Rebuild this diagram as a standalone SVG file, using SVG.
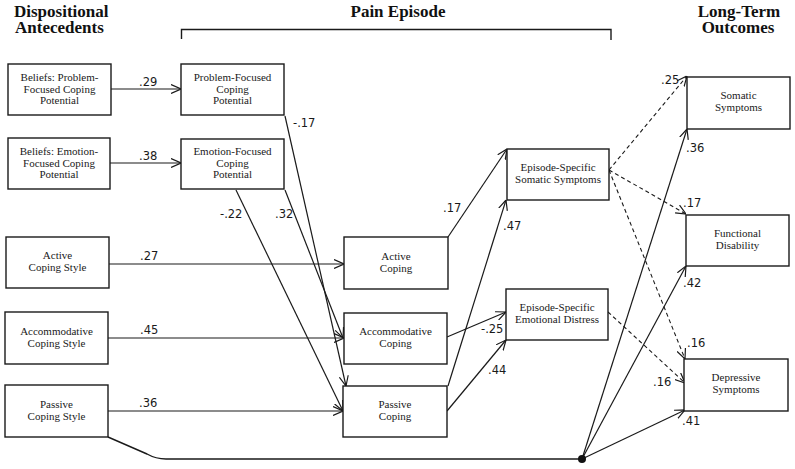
<svg xmlns="http://www.w3.org/2000/svg" width="795" height="469" viewBox="0 0 795 469">
<defs>
<style>
.bg{fill:#fff}
.box{fill:#fff;stroke:#1a1a1a;stroke-width:1.4}
.nt{font-family:"Liberation Serif","Times New Roman",serif;font-size:11px;fill:#1a1a1a;text-anchor:middle}
.hd{font-family:"Liberation Serif","Times New Roman",serif;font-size:17px;font-weight:bold;fill:#111}
.lb{font-family:"DejaVu Sans",Verdana,sans-serif;font-size:11.5px;fill:#1a1a1a}
.ln{fill:none;stroke:#1a1a1a;stroke-width:1.2;marker-end:url(#arr)}
.dl{fill:none;stroke:#1a1a1a;stroke-width:1.1;stroke-dasharray:4 3;marker-end:url(#arr)}
.pl{fill:none;stroke:#1a1a1a;stroke-width:1.4}
</style>
<marker id="arr" viewBox="0 0 10 10" refX="10" refY="5" markerWidth="10" markerHeight="10" markerUnits="userSpaceOnUse" orient="auto">
<path d="M0,0.5 L10,5 L0,9.5" fill="none" stroke="#1a1a1a" stroke-width="1.2"/>
</marker>
</defs>
<rect class="bg" x="0" y="0" width="795" height="469"/>

<g id="headers">
<text class="hd" x="14" y="17">Dispositional</text>
<text class="hd" x="15" y="33">Antecedents</text>
<text class="hd" x="398" y="17" text-anchor="middle">Pain Episode</text>
<text class="hd" x="739" y="17" text-anchor="middle">Long-Term</text>
<text class="hd" x="738" y="33" text-anchor="middle">Outcomes</text>
<path class="pl" d="M181.5,39 L181.5,29.5 L611,29.5 L611,40" stroke-width="1.8"/>
</g>

<g id="connectors">
<path class="ln" d="M111,89 L181,89"/>
<path class="ln" d="M110,163 L181,163"/>
<path class="ln" d="M109,264 L344,264"/>
<path class="ln" d="M108,338 L344,338"/>
<path class="ln" d="M108,411 L343,411"/>
<path class="ln" d="M285,116 L346,386"/>
<path class="ln" d="M285,190 L343,338"/>
<path class="ln" d="M236,190 L343,411"/>
<path class="ln" d="M448,237 L507,149"/>
<path class="ln" d="M448,386 L506,200"/>
<path class="ln" d="M447,337 L506,312"/>
<path class="ln" d="M447,411 L506,340"/>
<path class="dl" d="M609,170 L687,76"/>
<path class="dl" d="M609,170 L686,214"/>
<path class="dl" d="M609,170 L685,359"/>
<path class="dl" d="M608,312 L685,383"/>
<path class="pl" d="M108,437 L147,454 Q156,459 166,459 L582,459"/>
<path class="ln" d="M582,459 L687,129"/>
<path class="ln" d="M582,459 L686,266"/>
<path class="ln" d="M582,459 L685,410"/>
<circle cx="582" cy="459" r="4" fill="#111"/>
</g>

<g id="labels">
<text class="lb" x="139" y="86">.29</text>
<text class="lb" x="139" y="160">.38</text>
<text class="lb" x="293" y="127">-.17</text>
<text class="lb" x="220" y="218">-.22</text>
<text class="lb" x="275" y="218">.32</text>
<text class="lb" x="140" y="260">.27</text>
<text class="lb" x="140" y="334">.45</text>
<text class="lb" x="139" y="407">.36</text>
<text class="lb" x="443" y="212">.17</text>
<text class="lb" x="503" y="230">.47</text>
<text class="lb" x="481" y="333">-.25</text>
<text class="lb" x="488" y="374">.44</text>
<text class="lb" x="661" y="84">.25</text>
<text class="lb" x="686" y="152">.36</text>
<text class="lb" x="683" y="207">.17</text>
<text class="lb" x="683" y="287">.42</text>
<text class="lb" x="687" y="347">.16</text>
<text class="lb" x="653" y="386">.16</text>
<text class="lb" x="682" y="425">.41</text>
</g>

<g id="beliefs-problem">
<rect class="box" x="8" y="64" width="103" height="51"/>
<text class="nt" x="59.5" y="81">Beliefs:  Problem-</text>
<text class="nt" x="59.5" y="92.5">Focused Coping</text>
<text class="nt" x="59.5" y="104">Potential</text>
</g>
<g id="beliefs-emotion">
<rect class="box" x="8" y="138" width="102" height="51"/>
<text class="nt" x="59" y="155">Beliefs:  Emotion-</text>
<text class="nt" x="59" y="166.5">Focused Coping</text>
<text class="nt" x="59" y="178">Potential</text>
</g>
<g id="active-style">
<rect class="box" x="6" y="237" width="103" height="51"/>
<text class="nt" x="57.5" y="259">Active</text>
<text class="nt" x="57.5" y="271">Coping Style</text>
</g>
<g id="accommodative-style">
<rect class="box" x="5" y="312" width="103" height="52"/>
<text class="nt" x="56.5" y="334.5">Accommodative</text>
<text class="nt" x="56.5" y="346.5">Coping Style</text>
</g>
<g id="passive-style">
<rect class="box" x="5" y="385" width="103" height="52"/>
<text class="nt" x="56.5" y="407.5">Passive</text>
<text class="nt" x="56.5" y="419.5">Coping Style</text>
</g>
<g id="problem-focused">
<rect class="box" x="181" y="64" width="103" height="51"/>
<text class="nt" x="232.5" y="81">Problem-Focused</text>
<text class="nt" x="232.5" y="92.5">Coping</text>
<text class="nt" x="232.5" y="104">Potential</text>
</g>
<g id="emotion-focused">
<rect class="box" x="181" y="139" width="103" height="50"/>
<text class="nt" x="232.5" y="155">Emotion-Focused</text>
<text class="nt" x="232.5" y="166.5">Coping</text>
<text class="nt" x="232.5" y="178">Potential</text>
</g>
<g id="active-coping">
<rect class="box" x="344" y="237" width="104" height="52"/>
<text class="nt" x="396" y="259.5">Active</text>
<text class="nt" x="396" y="271.5">Coping</text>
</g>
<g id="accommodative-coping">
<rect class="box" x="344" y="313" width="103" height="51"/>
<text class="nt" x="395.5" y="335">Accommodative</text>
<text class="nt" x="395.5" y="347">Coping</text>
</g>
<g id="passive-coping">
<rect class="box" x="343" y="386" width="104" height="51"/>
<text class="nt" x="395" y="408">Passive</text>
<text class="nt" x="395" y="420">Coping</text>
</g>
<g id="episode-somatic">
<rect class="box" x="507" y="149" width="102" height="51"/>
<text class="nt" x="558" y="171">Episode-Specific</text>
<text class="nt" x="558" y="183">Somatic Symptoms</text>
</g>
<g id="episode-emotional">
<rect class="box" x="506" y="289" width="102" height="51"/>
<text class="nt" x="557" y="311">Episode-Specific</text>
<text class="nt" x="557" y="323">Emotional Distress</text>
</g>
<g id="somatic-symptoms">
<rect class="box" x="687" y="77" width="103" height="52"/>
<text class="nt" x="738.5" y="99">Somatic</text>
<text class="nt" x="738.5" y="111">Symptoms</text>
</g>
<g id="functional-disability">
<rect class="box" x="686" y="215" width="103" height="51"/>
<text class="nt" x="737.5" y="237">Functional</text>
<text class="nt" x="737.5" y="249">Disability</text>
</g>
<g id="depressive-symptoms">
<rect class="box" x="684" y="359" width="104" height="52"/>
<text class="nt" x="736" y="381">Depressive</text>
<text class="nt" x="736" y="393">Symptoms</text>
</g>
</svg>
